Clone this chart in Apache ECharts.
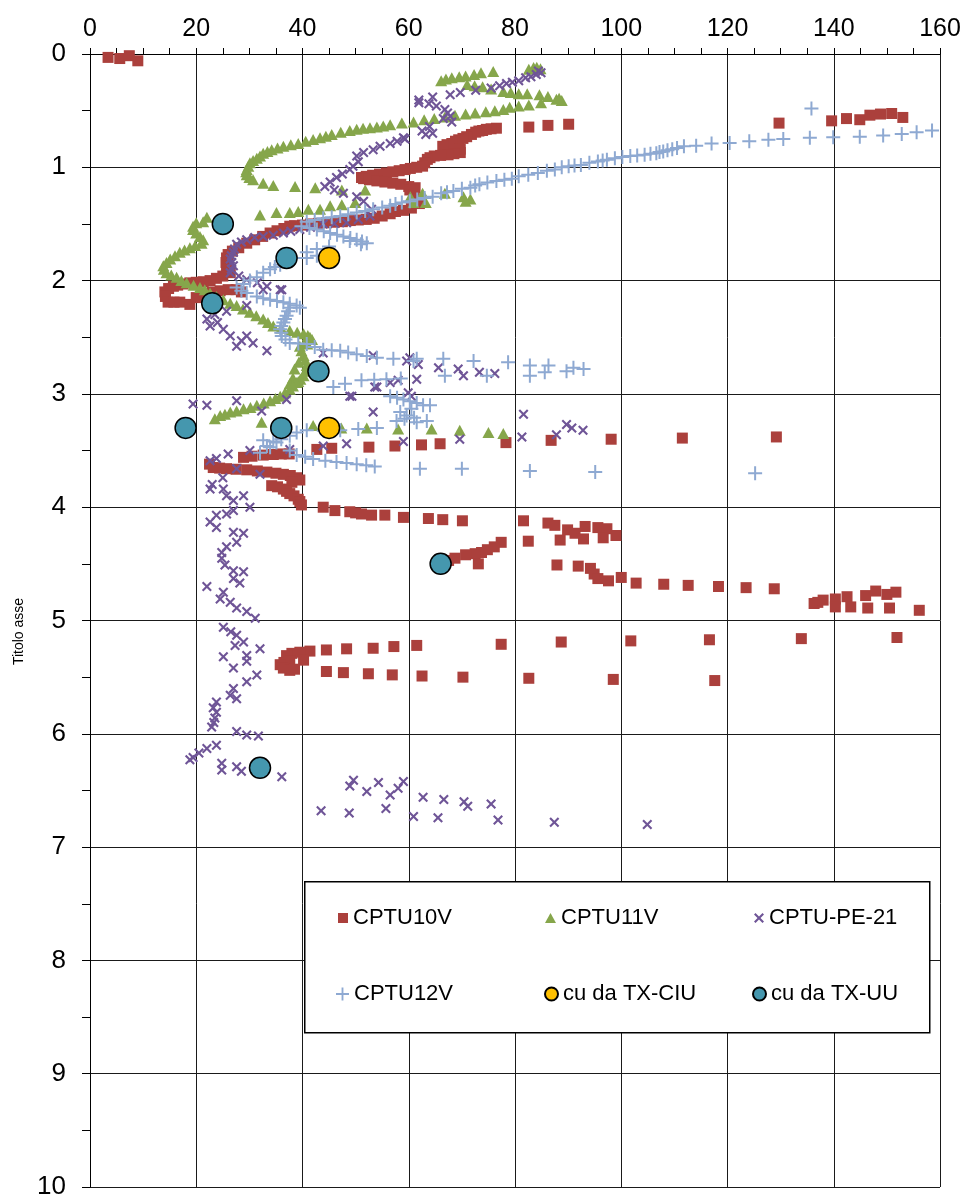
<!DOCTYPE html>
<html>
<head>
<meta charset="utf-8">
<script src="https://cdn.jsdelivr.net/npm/echarts@6/dist/echarts.min.js"></script>
<style>html,body{margin:0;padding:0;background:#fff}#c{width:966px;height:1200px}</style>
</head>
<body>
<div id="c"></div>
<script>
const seriesNames = ['CPTU10V', 'CPTU11V', 'CPTU-PE-21', 'CPTU12V', 'cu da TX-CIU', 'cu da TX-UU'];
const xAxisRange = [0, 160, 20];
const yAxisRange = [0, 10, 1];
const yAxisTitle = 'Titolo asse';

const cptu10v = [
[3.4,0.03],[5.6,0.04],[7.4,0.015],[9.0,0.06],
[129.7,0.61],[139.6,0.59],[142.4,0.57],[144.9,0.58],[146.8,0.54],[148.8,0.53],[150.9,0.525],[153,0.56],
[82.6,0.645],[86.2,0.63],[90.1,0.62],
[76.5,0.655],[75.5,0.66],[74.6,0.665],[73.9,0.675],[73.2,0.68],[72.6,0.69],[71.8,0.71],[70.9,0.73],[70.2,0.745],[69.4,0.757],[68.8,0.77],[68.1,0.79],[67.2,0.80],[66.4,0.815],[69.7,0.84],[69.7,0.87],[68.5,0.88],[67.4,0.89],[66.0,0.895],[64.8,0.90],[64.0,0.915],[63.5,0.93],[63.0,0.96],[62.6,0.99],[61.5,1.0],[60.3,1.01],[59.3,1.02],[58.2,1.03],[57.0,1.04],[55.8,1.05],[54.5,1.06],[53.2,1.07],[52.0,1.08],[51.1,1.09],[51.5,1.10],[52.6,1.11],[54.0,1.12],[55.5,1.13],[57.0,1.14],[58.5,1.15],[60.0,1.17],[61.2,1.18],[60.2,1.20],[61.0,1.24],[61.8,1.28],[62.0,1.32],[60.5,1.36],[59.0,1.38],[57.5,1.39],[56.5,1.41],[55.0,1.43],[53.5,1.45],[52.0,1.46],[50.5,1.465],[49.0,1.47],[47.5,1.48],[46.0,1.485],[44.5,1.49],[43.0,1.495],[41.5,1.50],[40.0,1.51],[38.5,1.515],[37.6,1.52],[36.5,1.54],[35.2,1.56],[33.9,1.58],[32.5,1.61],[31.0,1.64],[29.5,1.67],[28.0,1.71],[26.8,1.74],[26.0,1.77],[25.7,1.80],[25.6,1.84],[25.7,1.87],[26.2,1.90],[26.4,1.93],[25.0,1.96],[23.8,1.98],[22.6,2.0],[21.3,2.01],[20.0,2.015],[18.8,2.02],[17.5,2.03],[16.5,2.04],[15.7,2.05],[14.8,2.07],[14.1,2.10],[14.2,2.14],[14.7,2.19],[15.8,2.19],[16.9,2.19],[18.8,2.21],[20.0,2.15],[21.5,2.12],[23.0,2.10],[24.5,2.09],[26.0,2.08],[27.5,2.08],[28.5,2.10],
[42.7,3.49],[45.5,3.48],[52.5,3.47],[57.4,3.46],[62.4,3.45],[65.9,3.44],[78.3,3.43],[86.8,3.41],[98.1,3.40],[111.5,3.39],[129.2,3.38],
[28.9,3.56],[30.5,3.55],[32.6,3.54],[34.5,3.535],[36.0,3.53],[37.5,3.53],[22.5,3.62],[23.2,3.65],[24.4,3.655],[25.7,3.66],[27.5,3.665],[29.5,3.67],[31.5,3.68],[33.3,3.69],[35.0,3.70],[36.4,3.71],[37.7,3.72],[38.9,3.74],[39.5,3.76],[38.0,3.78],[34.2,3.81],[35.3,3.82],[36.4,3.84],[37.0,3.86],[37.6,3.88],[38.4,3.90],[39.2,3.93],[39.5,3.95],[39.8,3.98],
[43.9,4.0],[46.1,4.03],[48.9,4.04],[50.0,4.05],[51.1,4.06],[53.0,4.07],[55.5,4.07],[59.0,4.09],[63.7,4.10],[66.4,4.11],[70.1,4.12],[81.6,4.12],[86.2,4.14],[87.5,4.16],[89.9,4.20],[91.3,4.23],[93.2,4.17],[95.6,4.18],[97.3,4.19],[99.0,4.25],[96.6,4.27],[92.9,4.28],[88.5,4.29],[82.5,4.30],[77.4,4.31],[76.1,4.35],[74.8,4.375],[73.7,4.40],[72.5,4.41],[70.7,4.42],[68.7,4.45],[67.5,4.47],[73.1,4.50],[87.9,4.51],[91.9,4.52],[94.2,4.54],[94.9,4.59],[95.6,4.63],[97.6,4.65],[100.0,4.62],[102.8,4.67],[108.0,4.68],[112.6,4.69],[118.3,4.70],[123.5,4.71],[128.8,4.72],[136.3,4.85],[137.0,4.84],[138.0,4.82],[140.3,4.81],[142.5,4.79],[146.0,4.78],[147.9,4.74],[150.0,4.77],[151.7,4.75],[140.3,4.88],[143.2,4.88],[146.4,4.89],[150.5,4.89],[156.1,4.91],
[41.4,5.27],[39.5,5.28],[38.0,5.29],[37.0,5.31],[40.2,5.35],[37.6,5.36],[36.5,5.37],[35.8,5.39],[36.4,5.42],[37.6,5.44],[38.5,5.43],[44.5,5.26],[48.3,5.25],[53.3,5.245],[57.2,5.23],[61.5,5.22],[77.4,5.21],[88.7,5.19],[101.8,5.18],[116.6,5.17],[133.9,5.16],[151.9,5.15],[44.5,5.45],[47.7,5.46],[52.4,5.47],[56.9,5.48],[62.5,5.49],[70.2,5.50],[82.6,5.51],[98.5,5.52],[117.6,5.53]
];

const cptu11v = [
[66.1,0.235],[67.0,0.22],[68.1,0.21],[69.5,0.20],[70.7,0.195],[72.3,0.18],[73.6,0.165],[75.9,0.155],[82.6,0.135],[83.5,0.12],[84.1,0.117],[84.8,0.13],
[71.0,0.27],[72.4,0.28],[73.9,0.29],[75.5,0.31],[77.8,0.33],[79.2,0.34],[80.7,0.35],[82.3,0.35],[84.6,0.36],[86.2,0.375],[87.8,0.40],[88.8,0.41],[88.3,0.39],
[84.9,0.43],[82.6,0.45],[80.7,0.46],[79.0,0.47],[77.8,0.49],[76.2,0.50],[74.5,0.51],[72.5,0.52],[70.7,0.53],[68.7,0.54],[66.8,0.555],[64.8,0.57],[62.9,0.58],[60.9,0.60],[58.7,0.61],[56.5,0.625],[55.2,0.635],[54.0,0.645],[52.7,0.65],[51.4,0.655],[50.2,0.665],[48.9,0.675],[47.2,0.69],[45.5,0.71],[44.4,0.725],[43.3,0.74],[42.0,0.755],[40.6,0.77],[39.2,0.79],[37.8,0.80],[36.4,0.815],[35.3,0.83],[34.2,0.845],[33.4,0.86],[32.6,0.875],[32.0,0.90],[31.4,0.92],[30.7,0.94],[30.1,0.96],[29.8,0.99],[29.5,1.02],[29.4,1.04],[29.5,1.065],[30.0,1.09],[30.7,1.11],[32.6,1.14],[34.5,1.16],[38.6,1.17],[42.4,1.18],[47.4,1.20],[51.8,1.20],
[32.0,1.42],[35.1,1.40],[37.6,1.40],[39.2,1.39],[41.1,1.37],[43.3,1.37],[45.2,1.34],[47.4,1.33],[49.9,1.31],[60.9,1.31],[63.2,1.31],[62.6,1.23],[66.8,1.23],[70.3,1.26],[71.6,1.28],[70.7,1.30],[60.3,1.26],
[22.0,1.44],[21.3,1.48],[20.0,1.49],[19.4,1.52],[19.4,1.55],[20.0,1.58],[20.7,1.61],[21.3,1.64],[21.0,1.67],[19.8,1.69],[18.8,1.71],[17.8,1.73],[16.9,1.75],[16.0,1.78],[15.1,1.81],[14.4,1.84],[13.8,1.87],[13.9,1.90],[14.4,1.93],[15.3,1.95],[16.3,1.97],[17.2,2.0],[18.2,2.02],[19.5,2.04],[20.7,2.06],[21.6,2.08],[22.6,2.11],[23.8,2.14],[25.1,2.17],[26.4,2.20],[27.6,2.22],[28.8,2.25],[30.1,2.28],[31.3,2.31],[32.6,2.34],[33.5,2.37],[34.5,2.40],[36.0,2.42],[37.6,2.44],[39.0,2.455],[40.2,2.47],[41.0,2.485],[41.4,2.50],[41.8,2.52],[40.9,2.56],[40.5,2.54],[39.5,2.58],[39.8,2.62],[40.2,2.66],[40.5,2.70],[39.3,2.72],[40.8,2.75],[38.5,2.78],[40.5,2.80],[40.2,2.84],[38.2,2.86],[39.6,2.87],[39.2,2.89],[38.9,2.90],[37.6,2.91],[38.2,2.93],[37.6,2.96],[36.7,2.99],[35.8,3.02],[34.9,3.04],[33.9,3.06],[32.7,3.08],[31.4,3.10],[30.2,3.12],[28.9,3.13],[27.6,3.15],[26.4,3.16],[25.4,3.18],[24.5,3.19],[23.5,3.22],
[32.3,3.25],[37.0,3.27],[42.0,3.28],[47.3,3.30],[52.1,3.30],[58.0,3.31],[64.3,3.31],[69.6,3.32],[75.0,3.34],[77.8,3.35]
];

const cptuPe21 = [
[84.9,0.165],[84.4,0.15],[84.0,0.18],[83.0,0.20],[82.0,0.21],[80.7,0.235],[79.5,0.25],[78.4,0.26],[77.1,0.28],[75.5,0.30],[72.6,0.32],[69.7,0.34],[67.8,0.36],[64.5,0.38],[61.9,0.405],[61.9,0.43],[63.8,0.44],[65.2,0.46],[66.8,0.49],[67.3,0.52],[67.8,0.55],[68.1,0.60],[66.5,0.57],[63.9,0.64],[63.2,0.71],[64.5,0.70],[62.5,0.68],[59.3,0.75],[59.0,0.74],[57.8,0.77],[56.5,0.79],[54.6,0.815],[53.3,0.845],[51.5,0.87],[50.2,0.90],[50.5,0.95],[49.5,0.99],[48.9,1.02],[47.5,1.06],[46.4,1.09],[45.2,1.13],[44.2,1.17],[46.0,1.20],[47.7,1.23],[50.2,1.26],[51.5,1.30],[53.0,1.37],[52.7,1.43],[50.5,1.46],[48.3,1.49],[46.0,1.495],[43.9,1.50],[41.5,1.53],[39.5,1.55],[37.8,1.565],[36.4,1.58],[34.5,1.60],[32.6,1.61],[31.0,1.62],[29.5,1.64],[28.5,1.66],[27.6,1.68],[27.2,1.72],[27.0,1.75],[26.6,1.78],[26.4,1.81],[26.7,1.84],[27.0,1.87],[26.6,1.90],[26.4,1.93],[28.0,1.96],[29.5,1.99],[31.5,2.02],[33.3,2.05],[36.1,2.08],[32.6,2.08],[35.8,2.08],[29.5,2.22],[25.7,2.27],[23.5,2.30],[22.0,2.34],[22.6,2.40],[25.1,2.43],[26.4,2.49],[27.6,2.58],[29.5,2.49],[30.7,2.55],[33.3,2.62],[28.5,2.53],[24.0,2.37],
[43.9,2.64],[53.3,2.66],[59.6,2.71],[61.8,2.74],[60.2,2.68],[65.6,2.77],[69.3,2.78],[70.3,2.84],[73.3,2.81],[76.2,2.82],[61.5,2.87],[58.0,2.88],[56.5,2.90],[54.0,2.94],[53.6,2.94],[49.3,3.02],[59.9,2.99],[60.5,3.02],[53.3,3.16],[81.6,3.18],[89.7,3.27],[90.7,3.30],[92.8,3.32],[87.8,3.36],[81.3,3.38],[69.6,3.40],[59.0,3.42],[48.3,3.44],[43.9,3.46],[37.6,3.49],[19.4,3.09],[22.0,3.10],[27.6,3.06],[32.3,3.15],[37.0,3.05],[48.9,3.02],
[22.6,3.59],[23.8,3.57],[26.0,3.53],[30.1,3.50],[27.6,3.66],[32.0,3.71],[25.0,3.74],[23.0,3.80],[22.6,3.84],[25.1,3.84],[25.7,3.90],[27.0,3.94],[28.9,3.90],[30.1,4.0],[25.7,4.06],[27.0,4.03],[23.8,4.07],[22.6,4.13],[23.8,4.18],[27.0,4.22],[28.9,4.23],[27.6,4.31],[25.7,4.35],[24.8,4.40],[24.8,4.45],[25.4,4.51],[27.0,4.56],[28.9,4.57],[27.0,4.63],[28.2,4.67],[22.0,4.70],[25.1,4.75],[24.5,4.81],[26.4,4.84],[27.6,4.89],[29.5,4.92],[31.1,4.98],[25.1,5.06],[26.5,5.10],[27.6,5.13],[28.9,5.19],[27.3,5.22],[25.1,5.32],[29.5,5.31],[32.0,5.25],[27.0,5.42],[29.5,5.36],[31.4,5.48],[29.5,5.54],[27.0,5.60],[26.4,5.66],[27.6,5.69],[23.8,5.72],[23.2,5.77],[23.8,5.81],[23.5,5.86],[22.9,5.94],[23.3,5.90],[27.6,5.98],[29.5,6.01],[31.7,6.02],[23.8,6.10],[22.0,6.13],[20.5,6.17],[19.4,6.21],[18.8,6.23],[24.8,6.26],[24.8,6.32],[27.6,6.29],[28.5,6.33],[36.1,6.38],
[49.6,6.41],[48.9,6.46],[52.1,6.51],[54.3,6.43],[56.5,6.54],[58.0,6.48],[59.0,6.42],[43.5,6.68],[48.8,6.70],[55.7,6.66],[60.9,6.73],[62.7,6.56],[66.6,6.58],[70.4,6.60],[71.1,6.64],[75.5,6.62],[65.5,6.74],[76.8,6.76],[87.4,6.78],[104.9,6.80]
];

const cptu12v = [
[135.8,0.48],[158.5,0.675],[155.6,0.69],[152.8,0.705],[149.3,0.72],[144.9,0.73],[139.9,0.735],[135.5,0.74],[130.5,0.75],[127.7,0.757],[124.1,0.77],[120.4,0.786],[117.0,0.79],[114.1,0.81],[111.8,0.815],[110.5,0.83],[109.6,0.84],[108.7,0.85],[107.9,0.86],[107.2,0.865],[106.6,0.875],[105.5,0.88],[104.4,0.89],[103.0,0.895],[101.7,0.90],[100.2,0.91],[98.8,0.92],[97.3,0.933],[96.5,0.94],[95.6,0.948],[94.0,0.96],[92.4,0.98],[91.2,0.985],[90.1,0.99],[88.8,1.0],[87.5,1.02],[86.0,1.03],[84.3,1.05],[82.5,1.065],[80.7,1.08],[79.4,1.10],[78.0,1.11],[76.5,1.12],[74.8,1.135],[73.3,1.15],[72.5,1.16],[71.6,1.18],[70.0,1.19],[68.4,1.21],[67.2,1.22],[66.1,1.23],[64.5,1.26],[63.0,1.27],[61.6,1.285],[60.2,1.30],[58.7,1.31],[57.5,1.325],[56.5,1.34],[55.0,1.355],[53.3,1.37],[51.8,1.385],[50.2,1.40],[48.6,1.415],[47.1,1.43],[45.5,1.44],[43.9,1.45],[42.3,1.465],[40.8,1.48],[39.8,1.52],[41.3,1.535],[42.7,1.55],[44.0,1.565],[45.2,1.58],[46.5,1.595],[47.7,1.61],[49.0,1.625],[50.2,1.64],[51.2,1.655],[52.1,1.67],[48.9,1.65],[51.0,1.68],[45.0,1.70],[42.7,1.72],[40.8,1.75],[40.8,1.80],[42.7,1.78],[38.5,1.80],[37.2,1.83],[35.8,1.86],[34.8,1.88],[33.9,1.90],[32.6,1.93],[31.4,1.97],[30.1,2.0],[28.9,2.03],[27.6,2.06],[28.5,2.09],[29.5,2.11],[31.4,2.14],[32.6,2.155],[33.9,2.17],[35.2,2.18],[36.4,2.19],[37.6,2.205],[38.9,2.22],[37.6,2.24],[39.5,2.24],[37.3,2.27],[37.0,2.31],[36.7,2.34],[36.4,2.37],[36.0,2.40],[35.8,2.43],[36.0,2.46],[36.1,2.49],[36.8,2.52],[37.6,2.55],[39.2,2.555],[40.8,2.56],[42.3,2.585],[43.9,2.61],[45.5,2.615],[47.1,2.62],[48.6,2.635],[50.2,2.65],[52.1,2.665],[54.0,2.68],[57.1,2.69],[60.9,2.71],[61.5,2.69],[66.5,2.69],[72.2,2.71],[78.7,2.72],[82.8,2.75],[86.3,2.75],[91.0,2.77],[92.9,2.78],[66.8,2.84],[74.7,2.84],[82.8,2.84],[85.6,2.81],[89.7,2.80],
[45.8,2.94],[48.0,2.91],[51.1,2.88],[53.5,2.875],[55.8,2.87],[58.5,2.865],
[56.5,3.02],[57.8,3.035],[59.0,3.05],[60.2,3.065],[61.5,3.08],[62.7,3.10],[64.0,3.10],[60.5,3.13],[58.4,3.16],[59.6,3.19],[61.0,3.21],[63.4,3.24],[61.5,3.25],[57.7,3.24],[59.2,3.22],
[54.0,3.30],[50.5,3.31],[47.1,3.32],[44.0,3.325],[40.8,3.32],[38.9,3.34],[37.6,3.37],[36.0,3.40],[34.5,3.42],[33.3,3.46],[32.0,3.52],[32.6,3.41],[35.1,3.43],[33.9,3.47],[37.6,3.50],[38.9,3.54],[40.5,3.555],[42.0,3.575],[44.3,3.59],[46.4,3.60],[48.3,3.61],[50.2,3.62],[52.0,3.63],[53.6,3.64],[62.1,3.66],[70.0,3.66],[82.8,3.68],[95.1,3.69],[125.2,3.70]
];

const cuTxCiu = [[45,1.8],[45,3.3]];
const cuTxUu = [[25,1.5],[37,1.8],[23,2.2],[43,2.8],[18,3.3],[36,3.3],[66,4.5],[32,6.3]];

const FONT = 'Liberation Sans';
const plusPath = 'path://M6,0H8V6H14V8H8V14H6V8H0V6H6Z';
const xPath = 'path://M0,1.5L1.5,0L5,3.5L8.5,0L10,1.5L6.5,5L10,8.5L8.5,10L5,6.5L1.5,10L0,8.5L3.5,5Z';

const chart = echarts.init(document.getElementById('c'), null, {renderer: 'canvas'});

function legendAt(name, left, top, w, h) {
  return {
    data: [name], left: left, top: top, itemWidth: w, itemHeight: h, orient: 'horizontal',
    selectedMode: false, z: 20, padding: 0,
    textStyle: {fontFamily: FONT, fontSize: 22, color: '#000', padding: [0, 0, 0, 0]}
  };
}

const option = {
  animation: false,
  backgroundColor: '#fff',
  grid: {left: 90, top: 54, right: 26, bottom: 10, containLabel: false},
  xAxis: {
    type: 'value', position: 'top', min: xAxisRange[0], max: xAxisRange[1], interval: xAxisRange[2],
    axisLine: {show: true, lineStyle: {color: '#000', width: 1}},
    axisTick: {show: true, inside: false, length: 6, lineStyle: {color: '#000'}},
    minorTick: {show: true, splitNumber: 4, length: 6, lineStyle: {color: '#000'}},
    splitLine: {show: true, lineStyle: {color: '#1a1a1a', width: 1}},
    axisLabel: {fontFamily: FONT, fontSize: 25, color: '#000', margin: 12}
  },
  yAxis: {
    type: 'value', inverse: true, min: yAxisRange[0], max: yAxisRange[1], interval: yAxisRange[2],
    name: yAxisTitle, nameLocation: 'middle', nameGap: 64,
    nameTextStyle: {fontFamily: FONT, fontSize: 14, color: '#000', padding: [0, 22, 0, 0]},
    axisLine: {show: true, lineStyle: {color: '#000', width: 1}},
    axisTick: {show: true, inside: false, length: 8, lineStyle: {color: '#000'}},
    minorTick: {show: true, splitNumber: 2, length: 8, lineStyle: {color: '#000'}},
    splitLine: {show: true, lineStyle: {color: '#1a1a1a', width: 1}},
    axisLabel: {fontFamily: FONT, fontSize: 26, color: '#000', margin: 24}
  },
  legend: [
    legendAt(seriesNames[0], 338, 907, 10, 10),
    legendAt(seriesNames[1], 545, 907, 11, 10),
    legendAt(seriesNames[2], 754, 907, 10, 10),
    legendAt(seriesNames[3], 336, 983, 13, 13),
    legendAt(seriesNames[4], 544, 983, 13, 13),
    legendAt(seriesNames[5], 752, 983, 13, 13)
  ],
  graphic: [{
    type: 'rect', z: 10, left: 304, top: 881,
    shape: {width: 625, height: 151},
    style: {fill: '#fff', stroke: '#000', lineWidth: 1.5}
  }],
  series: [
    {name: seriesNames[0], type: 'scatter', data: cptu10v, symbol: 'rect', symbolSize: 11,
     itemStyle: {color: '#AB403C', opacity: 1}},
    {name: seriesNames[1], type: 'scatter', data: cptu11v, symbol: 'triangle', symbolSize: [12, 11],
     itemStyle: {color: '#86A64B', opacity: 1}},
    {name: seriesNames[2], type: 'scatter', data: cptuPe21, symbol: xPath, symbolSize: 10,
     itemStyle: {color: '#6F5597', opacity: 1}},
    {name: seriesNames[3], type: 'scatter', data: cptu12v, symbol: plusPath, symbolSize: 14,
     itemStyle: {color: '#8EA9D2', opacity: 1}},
    {name: seriesNames[4], type: 'scatter', data: cuTxCiu, symbol: 'circle', symbolSize: 21,
     itemStyle: {color: '#FFC000', borderColor: '#000', borderWidth: 1.5, opacity: 1}},
    {name: seriesNames[5], type: 'scatter', data: cuTxUu, symbol: 'circle', symbolSize: 21,
     itemStyle: {color: '#4597AE', borderColor: '#000', borderWidth: 1.5, opacity: 1}}
  ]
};
chart.setOption(option);
</script>
</body>
</html>
